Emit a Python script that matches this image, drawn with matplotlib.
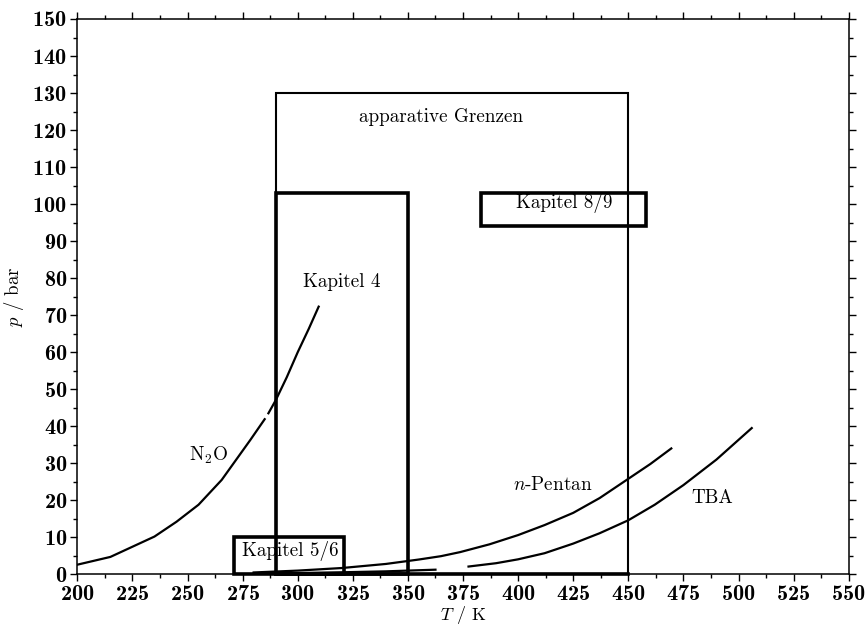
import matplotlib
matplotlib.use('Agg')
import matplotlib.patches as patches
import matplotlib.pyplot as plt
from matplotlib.ticker import MultipleLocator

plt.rcParams['mathtext.fontset'] = 'cm'
plt.rcParams['font.family'] = 'cmr10'
plt.rcParams['axes.formatter.use_mathtext'] = True

# Dampfdruckkurven
n2o_T1 = [200, 215, 235, 245, 255, 265.5, 278.5, 285]
n2o_p1 = [2.6, 4.7, 10.2, 14.2, 18.8, 25.5, 36.3, 41.9]
n2o_T2 = [286.7, 290, 295, 300, 305, 309.5]
n2o_p2 = [43.5, 47.0, 53.2, 60.0, 66.3, 72.3]

pentan_T = [280, 300, 320, 340, 355, 365, 373.7, 387, 400, 412, 425, 437, 450, 460, 469.5]
pentan_p = [0.5, 1.0, 1.7, 2.8, 4.0, 4.9, 6.0, 8.1, 10.6, 13.3, 16.6, 20.6, 25.8, 29.8, 34.0]

tba_T = [377.5, 390, 400, 412, 425, 437, 450, 462, 475, 490, 506]
tba_p = [2.1, 3.0, 4.05, 5.7, 8.3, 11.1, 14.6, 18.8, 24.1, 31.0, 39.5]

low_T = [280, 300, 320, 340, 362.5]
low_p = [0.2, 0.35, 0.55, 0.8, 1.25]

# Bereiche (T_min, T_max, p_min, p_max)
grenzen = (290, 450, 0, 130)
kapitel = {
    'Kapitel 4': (290, 350, 0, 103),
    'Kapitel 8/9': (383, 458, 94, 103),
    'Kapitel 5/6': (271, 321, 0, 10),
}

fig = plt.figure(figsize=(8.67, 6.25), dpi=100)
ax = fig.add_axes([0.0892, 0.0811, 0.8897, 0.8885])

# Kurven
for T, p in [(n2o_T1, n2o_p1), (n2o_T2, n2o_p2), (pentan_T, pentan_p),
             (tba_T, tba_p), (low_T, low_p)]:
    ax.plot(T, p, color='black', lw=1.6, solid_joinstyle='round')

# apparative Grenzen
t0, t1, p0, p1 = grenzen
ax.add_patch(patches.Rectangle((t0, p0), t1 - t0, p1 - p0, fill=False,
                               edgecolor='black', lw=1.5, clip_on=False))
ax.plot([t0, t1], [p0, p0], color='black', lw=2.6, clip_on=False)

# Kapitel-Bereiche
for name, (t0, t1, p0, p1) in kapitel.items():
    ax.add_patch(patches.Rectangle((t0, p0), t1 - t0, p1 - p0, fill=False,
                                   edgecolor='black', lw=2.6, clip_on=False))

# Beschriftungen
fs = 13.8
ax.text(365, 123.5, 'apparative Grenzen', ha='center', va='center', fontsize=fs)
ax.text(320, 79, 'Kapitel 4', ha='center', va='center', fontsize=fs)
ax.text(421, 100.3, 'Kapitel 8/9', ha='center', va='center', fontsize=fs)
ax.text(296.5, 6.4, 'Kapitel 5/6', ha='center', va='center', fontsize=fs)
ax.text(259.5, 32.2, r'N$_2$O', ha='center', va='center', fontsize=fs)
ax.text(415.5, 24.1, r'$n$-Pentan', ha='center', va='center', fontsize=fs)
ax.text(488, 20.7, 'TBA', ha='center', va='center', fontsize=fs)

ax.set_xlim(200, 550)
ax.set_ylim(0, 150)
ax.xaxis.set_major_locator(MultipleLocator(25))
ax.xaxis.set_minor_locator(MultipleLocator(12.5))
ax.yaxis.set_major_locator(MultipleLocator(10))
ax.yaxis.set_minor_locator(MultipleLocator(5))
ax.tick_params(which='both', direction='out', top=True, right=True, width=1.0)
ax.tick_params(which='major', length=5, pad=2.5)
ax.tick_params(which='minor', length=3)
for lab in ax.get_xticklabels() + ax.get_yticklabels():
    lab.set_fontfamily('cmb10')
    lab.set_fontsize(16)
for s in ax.spines.values():
    s.set_linewidth(1.1)

ax.set_xlabel(r'$T$ / K', fontsize=13, labelpad=0)
ax.set_ylabel(r'$p$ / bar', fontsize=13.5, labelpad=5)

plt.savefig('out.png', dpi=100)
